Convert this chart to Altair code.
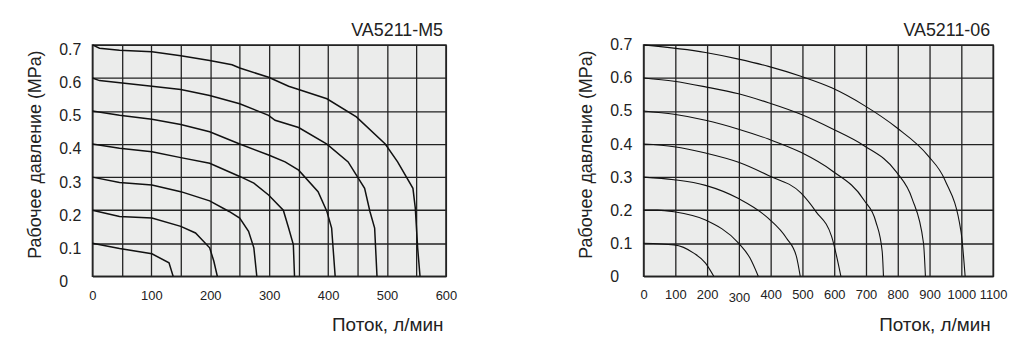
import altair as alt
import pandas as pd

# ---- Left chart: VA5211-M5 ----
m5_series = ["0.7", "0.6", "0.5", "0.4", "0.3", "0.2", "0.1"]
m5_x = [
    [0, 12, 46, 101, 150, 199, 237, 250, 299, 333, 350, 398, 448, 497, 518, 544, 548, 552, 556],
    [0, 12, 101, 150, 199, 250, 299, 310, 350, 398, 434, 462, 471, 479, 483],
    [0, 46, 101, 150, 199, 250, 299, 327, 350, 383, 398, 406, 412],
    [0, 46, 101, 150, 199, 250, 274, 299, 324, 333, 341, 343],
    [0, 46, 101, 150, 199, 232, 250, 265, 274, 279],
    [0, 46, 101, 150, 175, 199, 206, 212],
    [0, 46, 101, 130, 137],
]
m5_y = [
    [0.70, 0.69, 0.684, 0.679, 0.667, 0.653, 0.64, 0.63, 0.602, 0.575, 0.565, 0.537, 0.482, 0.40, 0.346, 0.266, 0.206, 0.086, 0],
    [0.60, 0.592, 0.575, 0.565, 0.547, 0.522, 0.487, 0.472, 0.45, 0.40, 0.346, 0.266, 0.196, 0.146, 0],
    [0.50, 0.487, 0.475, 0.459, 0.437, 0.40, 0.367, 0.346, 0.321, 0.256, 0.196, 0.146, 0],
    [0.40, 0.387, 0.377, 0.359, 0.342, 0.302, 0.282, 0.246, 0.20, 0.146, 0.096, 0],
    [0.30, 0.284, 0.276, 0.256, 0.228, 0.196, 0.176, 0.136, 0.086, 0],
    [0.20, 0.181, 0.176, 0.151, 0.131, 0.086, 0.046, 0],
    [0.10, 0.084, 0.068, 0.041, 0],
]

# ---- Right chart: VA5211-06 ----
v06_series = ["0.7", "0.6", "0.5", "0.4", "0.3", "0.2", "0.1"]
v06_x = [
    [0, 195, 299, 393, 495, 592, 694, 796, 895, 949, 999, 1012],
    [0, 96, 195, 299, 393, 495, 592, 694, 796, 845, 881, 887],
    [0, 96, 195, 299, 393, 495, 592, 694, 731, 751, 755],
    [0, 96, 195, 299, 393, 495, 543, 592, 621],
    [0, 96, 195, 299, 393, 450, 481, 493],
    [0, 44, 96, 195, 299, 335, 361],
    [0, 96, 158, 195, 221],
]
v06_y = [
    [0.70, 0.677, 0.657, 0.635, 0.605, 0.57, 0.517, 0.45, 0.365, 0.29, 0.135, 0],
    [0.60, 0.59, 0.573, 0.552, 0.525, 0.49, 0.447, 0.395, 0.315, 0.235, 0.10, 0],
    [0.50, 0.49, 0.472, 0.445, 0.415, 0.375, 0.32, 0.23, 0.165, 0.075, 0],
    [0.40, 0.392, 0.373, 0.345, 0.305, 0.252, 0.195, 0.12, 0],
    [0.30, 0.292, 0.275, 0.235, 0.175, 0.115, 0.06, 0],
    [0.20, 0.20, 0.195, 0.17, 0.10, 0.055, 0],
    [0.10, 0.095, 0.07, 0.04, 0],
]

y_ticks = [0, 0.1, 0.2, 0.3, 0.4, 0.5, 0.6, 0.7]
m5_x_ticks = list(range(0, 601, 50))
v06_x_ticks = list(range(0, 1101, 100))

y_title = "Рабочее давление (MPa)"
x_title = "Поток, л/мин"
FONT = "Liberation Sans"


def frame(series, xs, ys):
    rows = []
    for s, xl, yl in zip(series, xs, ys):
        for i, (a, b) in enumerate(zip(xl, yl)):
            rows.append({"series": s, "order": i, "flow": a, "pressure": b})
    return pd.DataFrame(rows)


def panel(df, title, xmax, xticks, w, label_expr_x, y_label_offset, interp, sw,
          x_label_padding, title_dy):
    return (
        alt.Chart(df)
        .mark_line(color="#111", strokeWidth=sw, interpolate=interp)
        .encode(
            x=alt.X(
                "flow:Q",
                scale=alt.Scale(domain=[0, xmax], nice=False),
                axis=alt.Axis(
                    values=xticks,
                    labelExpr=label_expr_x,
                    title=x_title,
                    titleFontSize=19,
                    titleFontWeight="normal",
                    titleFont=FONT,
                    titleColor="#222",
                    titleAnchor="end",
                    titleAlign="right",
                    titleBaseline="middle",
                    titleX=w - 3,
                    titleY=49,
                    labelFontSize=13,
                    labelFont=FONT,
                    labelColor="#222",
                    labelPadding=x_label_padding,
                    labelFlush=False,
                    labelOverlap=False,
                    ticks=False,
                    domain=False,
                    grid=True,
                    gridColor="#222",
                    gridWidth=1.3,
                    gridOpacity=1,
                ),
            ),
            y=alt.Y(
                "pressure:Q",
                scale=alt.Scale(domain=[0, 0.7], nice=False),
                axis=alt.Axis(
                    values=y_ticks,
                    labelExpr="datum.value == 0 ? '0' : format(datum.value, '.1f')",
                    title=y_title,
                    titleFontSize=18,
                    titleFontWeight="normal",
                    titleFont=FONT,
                    titleColor="#222",
                    titleAnchor="middle",
                    titleAngle=270,
                    titleBaseline="middle",
                    titleAlign="center",
                    titleX=-57,
                    titleY=110,
                    labelFontSize=16,
                    labelFont=FONT,
                    labelColor="#222",
                    labelAlign="left",
                    labelBaseline="middle",
                    labelPadding=34,
                    labelOffset=y_label_offset,
                    labelFlush=False,
                    labelOverlap=False,
                    ticks=False,
                    domain=False,
                    grid=True,
                    gridColor="#222",
                    gridWidth=1.3,
                    gridOpacity=1,
                ),
            ),
            detail="series:N",
            order="order:Q",
        )
        .properties(
            width=w,
            height=233,
            title=alt.TitleParams(
                title,
                anchor="end",
                frame="group",
                fontSize=18,
                fontWeight="normal",
                font=FONT,
                color="#222",
                offset=2,
                dx=-3,
                dy=title_dy,
            ),
        )
    )


left = panel(
    frame(m5_series, m5_x, m5_y), "VA5211-M5", 600, m5_x_ticks, 356,
    "datum.value % 100 == 0 ? format(datum.value, 'd') : ''", 5, "linear", 1.5,
    13, 0,
)
right = panel(
    frame(v06_series, v06_x, v06_y), "VA5211-06", 1100, v06_x_ticks, 352,
    "format(datum.value, 'd')", 0, "monotone", 1.1,
    {"condition": {"test": "datum.value == 300", "value": 15}, "value": 12}, 5,
)

chart = (
    alt.hconcat(left, right, spacing=120)
    .properties(padding={"left": 18, "top": 12, "right": 0, "bottom": 0}, background="white")
    .configure_view(fill="#ebeceb", stroke="#333", strokeWidth=1.5)
)

chart.save("out.html", embed_options={"renderer": "svg", "actions": False})
